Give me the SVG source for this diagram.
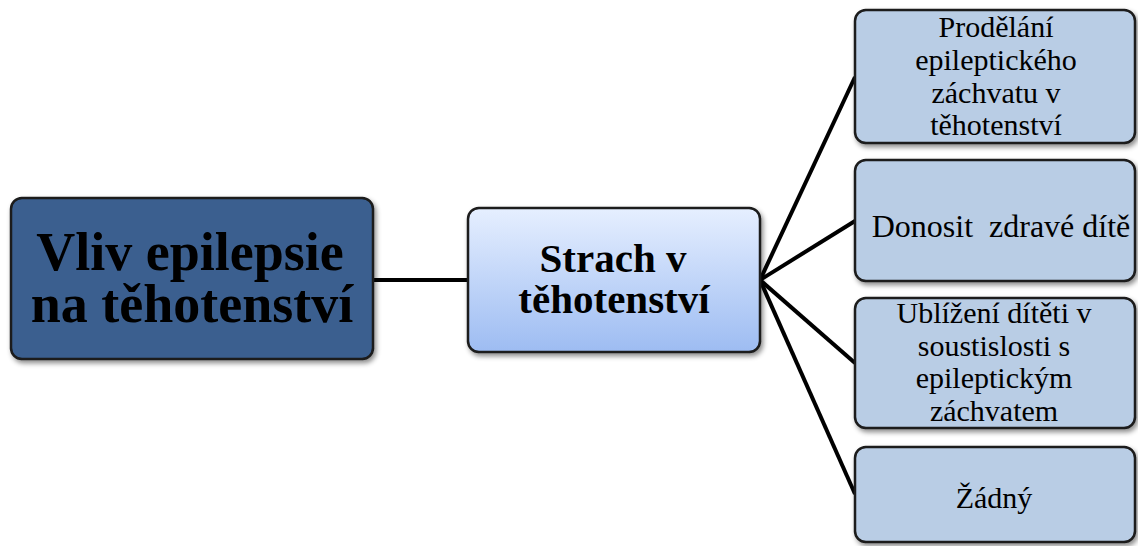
<svg xmlns="http://www.w3.org/2000/svg" width="1138" height="546" viewBox="0 0 1138 546">
  <defs>
    <linearGradient id="gradMid" x1="0" y1="0" x2="0" y2="1">
      <stop offset="0" stop-color="#e6efff"/>
      <stop offset="1" stop-color="#9dbcf2"/>
    </linearGradient>
    <filter id="shadow" x="-10%" y="-10%" width="125%" height="130%">
      <feDropShadow dx="2" dy="3" stdDeviation="2.5" flood-color="#000" flood-opacity="0.45"/>
    </filter>
    <style>
      .box { stroke: #1a1a1a; stroke-width: 2.5; filter: url(#shadow); }
      .root { fill: #3a5f8f; }
      .mid { fill: url(#gradMid); }
      .leaf { fill: #b9cde5; }
      .conn { stroke: #000; stroke-width: 4; fill: none; }
      text { font-family: "Liberation Serif", "Times New Roman", serif; fill: #000; text-anchor: middle; }
      .big { font-size: 54px; font-weight: bold; }
      .midt { font-size: 41px; font-weight: bold; }
      .leaft { font-size: 30px; }
      .wide { font-size: 32px; }
    </style>
  </defs>

  <!-- connectors -->
  <g id="connectors">
    <line class="conn" x1="373" y1="280" x2="468" y2="280"/>
    <line class="conn" x1="760" y1="280" x2="855" y2="77"/>
    <line class="conn" x1="760" y1="280" x2="855" y2="221"/>
    <line class="conn" x1="760" y1="280" x2="855" y2="363"/>
    <line class="conn" x1="760" y1="280" x2="855" y2="494"/>
  </g>

  <!-- root topic -->
  <g id="node-root">
    <rect class="box root" x="11" y="198" width="362" height="161" rx="11"/>
    <text class="big" x="190" y="270">Vliv epilepsie</text>
    <text class="big" x="192" y="322">na těhotenství</text>
  </g>

  <!-- central topic -->
  <g id="node-strach">
    <rect class="box mid" x="468" y="208" width="292" height="144" rx="11"/>
    <text class="midt" x="613" y="272">Strach v</text>
    <text class="midt" x="614" y="313">těhotenství</text>
  </g>

  <!-- leaves -->
  <g id="node-prodelani">
    <rect class="box leaf" x="855" y="10" width="280" height="133" rx="11"/>
    <text class="leaft" x="996" y="37">Prodělání</text>
    <text class="leaft" x="996" y="70">epileptického</text>
    <text class="leaft" x="996" y="103">záchvatu v</text>
    <text class="leaft" x="996" y="135">těhotenství</text>
  </g>

  <g id="node-donosit">
    <rect class="box leaf" x="855" y="160" width="280" height="121" rx="11"/>
    <text class="leaft wide" x="1001" y="237" xml:space="preserve">Donosit  zdravé dítě</text>
  </g>

  <g id="node-ublizeni">
    <rect class="box leaf" x="855" y="298" width="280" height="130" rx="11"/>
    <text class="leaft" x="994" y="323">Ublížení dítěti v</text>
    <text class="leaft" x="994" y="356">soustislosti s</text>
    <text class="leaft" x="994" y="388">epileptickým</text>
    <text class="leaft" x="994" y="421">záchvatem</text>
  </g>

  <g id="node-zadny">
    <rect class="box leaf" x="855" y="447" width="280" height="95" rx="11"/>
    <text class="leaft" x="994" y="508">Žádný</text>
  </g>
</svg>
